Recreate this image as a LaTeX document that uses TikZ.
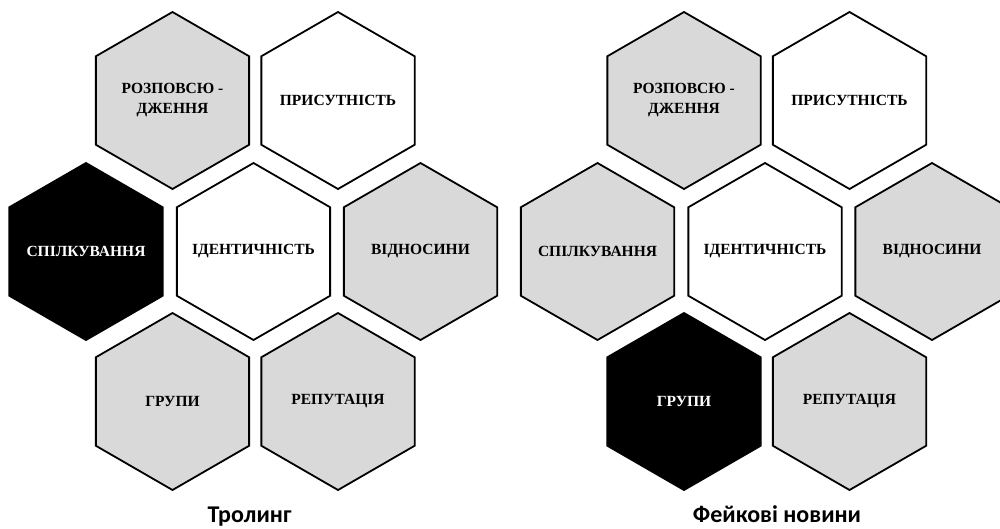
\documentclass[tikz,border=0pt]{standalone}
\usepackage{fontspec}
\setmainfont{Liberation Serif}
\newfontfamily\titlefont{Carlito}
\usetikzlibrary{shapes.geometric}
\definecolor{hexgray}{HTML}{D9D9D9}
\tikzset{
  hexbase/.style={regular polygon, regular polygon sides=6, shape border rotate=30,
    minimum size=177pt, inner sep=0pt, line width=1.8pt, draw=black},
  hexlabel/.style={align=center, inner sep=0pt, font=\bfseries\fontsize{15.5}{20}\selectfont},
  hexg/.style={hexbase, fill=hexgray, label={[hexlabel,text=black]center:{#1}}},
  hexw/.style={hexbase, fill=white, label={[hexlabel,text=black]center:{#1}}},
  hexk/.style={hexbase, fill=black, label={[hexlabel,text=white]center:{#1}}},
  titletext/.style={font=\titlefont\bfseries\fontsize{24}{28}\selectfont, anchor=base, inner sep=0pt}
}
\begin{document}
\begin{tikzpicture}[x=1pt,y=-1pt]
\useasboundingbox (0,0) rectangle (1000,528);
\clip (0,0) rectangle (1000,528);
% left diagram
\node[hexg={РОЗПОВСЮ -\\ДЖЕННЯ}] (a1) at (172.5,100.5) {};
\node[hexw={ПРИСУТНІСТЬ}] (a2) at (338,100.5) {};
\node[hexk={СПІЛКУВАННЯ}] (a3) at (86,251.5) {};
\node[hexw={ІДЕНТИЧНІСТЬ}] (a4) at (253.5,251.5) {};
\node[hexg={ВІДНОСИНИ}] (a5) at (420.5,251.5) {};
\node[hexg={ГРУПИ}] (a6) at (172.5,401.5) {};
\node[hexg={РЕПУТАЦІЯ}] (a7) at (338,401.5) {};
\node[titletext] (ta) at (249.5,522.5) {Тролинг};
% right diagram
\node[hexg={РОЗПОВСЮ -\\ДЖЕННЯ}] (b1) at (684,100.5) {};
\node[hexw={ПРИСУТНІСТЬ}] (b2) at (849.5,100.5) {};
\node[hexg={СПІЛКУВАННЯ}] (b3) at (597.5,251.5) {};
\node[hexw={ІДЕНТИЧНІСТЬ}] (b4) at (765,251.5) {};
\node[hexg={ВІДНОСИНИ}] (b5) at (932,251.5) {};
\node[hexk={ГРУПИ}] (b6) at (684,401.5) {};
\node[hexg={РЕПУТАЦІЯ}] (b7) at (849.5,401.5) {};
\node[titletext] (tb) at (777,522.5) {Фейкові новини};
\end{tikzpicture}
\end{document}
